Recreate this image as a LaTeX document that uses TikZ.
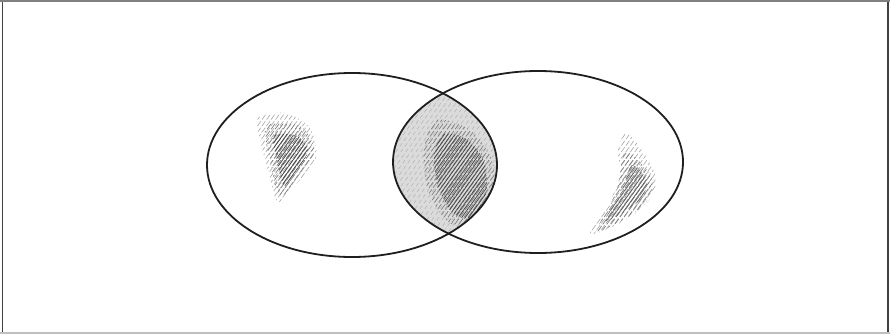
\documentclass[tikz,border=0pt]{standalone}
\begin{document}
\begin{tikzpicture}[x=1pt,y=-1pt,
  outline/.style={line width=1.8pt,draw=black!88},
  hatchlight/.style={line width=0.6pt,draw=black!35},
  hatchmid/.style={line width=0.7pt,draw=black!50},
  hatchdark/.style={line width=0.75pt,draw=black!72},
  frameline/.style={line width=1.6pt}]
\useasboundingbox (0,0) rectangle (890,334);
% frame
\draw[frameline,draw=black!75] (2.5,0) -- (2.5,334);
\draw[frameline,draw=black!75] (888,0) -- (888,334);
\draw[frameline,draw=black!50] (0,1) -- (890,1);
\draw[frameline,draw=black!25] (0,333) -- (890,333);

% lens (intersection) shading
\begin{scope}
  \clip (352,165) ellipse [x radius=145, y radius=92];
  \clip (538,162) ellipse [x radius=145, y radius=91];
  \fill[black!14] (380,80) rectangle (510,250);
  \foreach \i in {0,5,...,900} \draw[black!30,line width=0.5pt,dash pattern=on 4pt off 3pt] (\i,334) -- ++(240,-334);
  \begin{scope}
    \clip plot[smooth cycle] coordinates {(436,120) (470,130) (492,160) (494,200) (470,228) (446,220) (428,190) (424,150)};
    \foreach \i in {0,4,...,900} \draw[hatchmid,dash pattern=on 7pt off 2pt] (\i,334) -- ++(240,-334);
  \end{scope}
  \begin{scope}
    \clip plot[smooth cycle] coordinates {(444,134) (468,140) (484,162) (486,195) (470,218) (452,212) (438,186) (434,154)};
    \foreach \i in {0,3.5,...,900} \draw[hatchdark] (\i,334) -- ++(240,-334);
  \end{scope}
\end{scope}

% left patch
\begin{scope}
  \clip plot[smooth cycle] coordinates {(258,118) (285,113) (310,128) (316,158) (298,182) (278,202) (268,170) (260,140)};
  \foreach \i in {0,4.5,...,900} \draw[hatchlight,dash pattern=on 6pt off 2pt] (\i,334) -- ++(240,-334);
  \begin{scope}
    \clip plot[smooth cycle] coordinates {(266,126) (300,126) (314,150) (300,176) (280,196) (271,165)};
    \foreach \i in {0,4,...,900} \draw[hatchmid,dash pattern=on 7pt off 2pt] (\i,334) -- ++(240,-334);
  \end{scope}
  \begin{scope}
    \clip plot[smooth cycle] coordinates {(274,136) (297,136) (308,151) (297,170) (284,186) (278,165)};
    \foreach \i in {0,3.5,...,900} \draw[hatchdark] (\i,334) -- ++(240,-334);
  \end{scope}
\end{scope}

% right patch
\begin{scope}
  \clip plot[smooth cycle] coordinates {(626,133) (642,150) (656,178) (648,202) (622,222) (590,234) (608,205) (620,176) (618,150)};
  \foreach \i in {0,4.5,...,900} \draw[hatchlight,dash pattern=on 6pt off 2pt] (\i,334) -- ++(240,-334);
  \begin{scope}
    \clip plot[smooth cycle] coordinates {(626,152) (652,178) (645,204) (615,224) (597,230) (616,192)};
    \foreach \i in {0,4,...,900} \draw[hatchmid,dash pattern=on 7pt off 2pt] (\i,334) -- ++(240,-334);
  \end{scope}
  \begin{scope}
    \clip plot[smooth cycle] coordinates {(632,165) (647,181) (640,200) (617,216) (605,220) (622,190)};
    \foreach \i in {0,3.5,...,900} \draw[hatchdark,draw=black!62] (\i,334) -- ++(240,-334);
  \end{scope}
\end{scope}

% outlines
\draw[outline] (352,165) ellipse [x radius=145, y radius=92];
\draw[outline] (538,162) ellipse [x radius=145, y radius=91];
\end{tikzpicture}
\end{document}
